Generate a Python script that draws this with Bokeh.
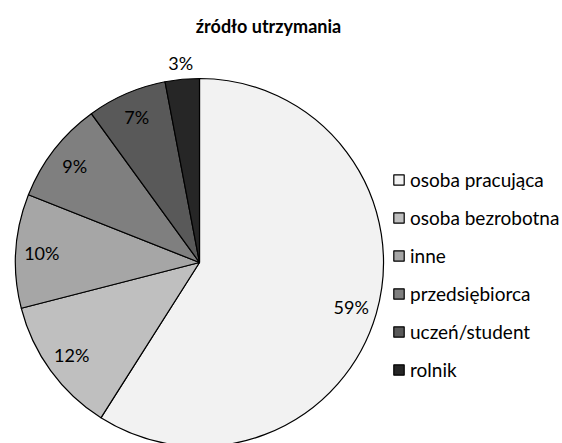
import numpy as np
from bokeh.plotting import figure
from bokeh.models import Range1d, ColumnDataSource, Legend, LegendItem
from bokeh.core.properties import value
from bokeh.embed import file_html
from bokeh.resources import INLINE

title = "źródło utrzymania"
categories = ["osoba pracująca", "osoba bezrobotna", "inne", "przedsiębiorca", "uczeń/student", "rolnik"]
shares = [59, 12, 10, 9, 7, 3]
colors = ["#f2f2f2", "#bfbfbf", "#a6a6a6", "#7f7f7f", "#595959", "#262626"]

FONT = "Lato"
W, H = 562, 443
p = figure(width=W, height=H, x_range=Range1d(0, W), y_range=Range1d(0, H),
           x_axis_type=None, y_axis_type=None, toolbar_location=None,
           output_backend="svg", min_border=0, outline_line_color=None)
p.xgrid.visible = False
p.ygrid.visible = False

cx, cy, r = 199, 181, 184
frac = np.array(shares, dtype=float) / sum(shares)
cum = np.concatenate([[0.0], np.cumsum(frac)])
start = np.pi / 2 - cum[1:] * 2 * np.pi
end = np.pi / 2 - cum[:-1] * 2 * np.pi
src = ColumnDataSource(dict(start=start, end=end, color=colors, label=categories))
rend = p.wedge(x=cx, y=cy, radius=r, start_angle="start", end_angle="end",
               fill_color="color", line_color="black", line_width=1.2, source=src)

mid = (start + end) / 2
lr = np.where(frac < 0.05, 200, 158)
lx = cx + lr * np.cos(mid)
ly = cy + lr * np.sin(mid)
p.text(x=lx, y=ly, text=[f"{s}%" for s in shares], text_font=value(FONT),
       text_font_size="18px", text_align="center", text_baseline="middle",
       text_color="#000000")

p.text(x=[268], y=[418], text=[title], text_font=value(FONT), text_font_size="18px",
       text_font_style="bold", text_align="center", text_baseline="middle",
       text_color="#000000")

items = [LegendItem(label=c, renderers=[rend], index=i) for i, c in enumerate(categories)]
legend = Legend(items=items, location=(392, 62), padding=0, margin=0, spacing=15,
                label_height=20, glyph_height=13, glyph_width=13, label_standoff=5,
                label_text_font=FONT, label_text_font_size="19px",
                label_text_color="#000000", border_line_alpha=0,
                background_fill_alpha=0)
p.add_layout(legend, "center")

open("out.html", "w").write(file_html(p, INLINE))
